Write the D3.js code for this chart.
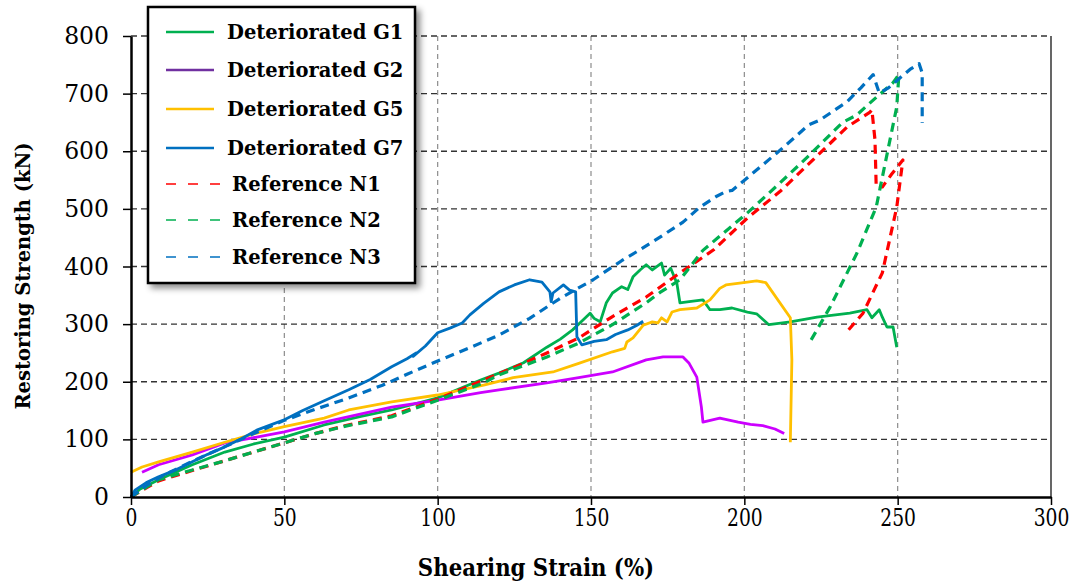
<!DOCTYPE html>
<html>
<head>
<meta charset="utf-8">
<script src="https://cdn.jsdelivr.net/npm/d3@7"></script>
<style>
  body { margin: 0; background: #fff; }
  text { font-family: 'DejaVu Serif', serif; fill: #000; }
  .title { font-weight: bold; }
</style>
</head>
<body>
<div id="chart"></div>
<script>
// values: [shearing strain %, restoring strength kN]
const g1 = [[0,0],[3,14],[9,30],[20,56],[30.6,78],[40,92],[50,104],[63,125],[75,140],[85,151],[100,172],[114,203],[120,215],[128,233],[135.6,260],[140,274],[144,290],[147.4,307],[149.7,319],[151,310],[153,304],[155,337],[157,354],[160,365],[162,360],[163.7,382],[166,394],[168,403],[170,394],[173,406],[174,385],[176,397],[178,371],[179,337],[182,339],[186.5,342],[188.8,325],[192,325],[196,328],[201,321],[204,318],[208,299],[215,304],[223.7,312],[234.4,319],[240,325],[241.6,311],[244,325],[245,312],[246.5,295],[248.5,295],[249.7,260]]
const g2 = [[3.6,43],[9,56],[20,73],[30.6,94],[41,104],[50,113],[63,130],[85,156],[100,168],[114,181],[120,186],[135.6,198],[146,207],[157,217],[168,238],[173.5,243],[180,243],[182,232],[184.5,208],[186,156],[186.5,130],[192,137],[198,130],[202,126],[206,124],[210,118],[213,110]]
const g5 = [[0,43],[3.6,52],[9,61],[20,78],[30.6,95],[41,111],[50,122],[63,137],[71,151],[85,165],[100,177],[115,194],[124.6,207],[137.6,217],[146,232],[157,252],[161,258],[161.7,269],[163.7,276],[167,298],[170,304],[171.8,302],[173,311],[174.8,304],[176.4,321],[179,325],[184.5,328],[188.8,342],[192,362],[194,368],[201,373],[204,375],[207,372],[215,311],[215.5,238],[215,95]]
const g7 = [[0,0],[1.3,12],[5,25],[9,35],[15,48],[20,61],[25,74],[30.6,87],[36,101],[41,116],[46,126],[50,134],[56,150],[63,167],[71,186],[78,204],[85,226],[90,240],[93,250],[92,244],[96,262],[100,285],[104,293],[108,302],[110.5,316],[115,336],[120,356],[125,368],[130,377],[134,373],[136.6,356],[137,339],[137.6,354],[141,368],[143,359],[145,356],[145.4,278],[147,264],[151,270],[155,273],[158,282],[162,290],[165,298],[167,305]]
const n1 = [[0,0],[5,16],[9,28],[20,46],[30,62],[40,78],[50,94],[60,110],[70,124],[85,141],[100,170],[115,203],[125,225],[135.6,250],[146,276],[157,313],[168,347],[179,389],[190,429],[201,484],[211.6,530],[221,578],[233.5,642],[241,668],[241.6,672],[242.6,620],[243,538],[245,538],[248,560],[251.7,585],[249.7,503],[245,389],[238.7,319],[233.5,287]]
const n2 = [[0,0],[5,17],[9,30],[20,47],[30,62],[40,78],[50,94],[60,110],[70,123],[85,139],[100,168],[115,198],[120,212],[135.6,243],[146,267],[157,299],[168,337],[172.5,355],[179,377],[186.5,428],[201,493],[210.6,540],[221,592],[232,650],[236.7,663],[241,684],[248.5,719],[250.4,733],[249.7,677],[243,503],[236.7,423],[228,330],[221.4,269]]
const n3 = [[0,0],[5,20],[10,36],[20,62],[30,86],[40,110],[50,133],[60,152],[70,170],[82,194],[90,213],[100,236],[110,258],[120,281],[130,310],[140,345],[150.7,377],[160,410],[165,426],[172.5,451],[180,477],[185.5,503],[191,522],[194,530],[196,532],[201,554],[210.6,597],[216,622],[221,646],[224.6,654],[233.5,686],[238,710],[242,733],[244,701],[247,710],[250.7,727],[254,742],[257,752],[258,736],[258,690],[258,649]]

const seriesNames = ['Deteriorated G1', 'Deteriorated G2', 'Deteriorated G5', 'Deteriorated G7', 'Reference N1', 'Reference N2', 'Reference N3']
const xTicks = [0, 50, 100, 150, 200, 250, 300]
const yTicks = [0, 100, 200, 300, 400, 500, 600, 700, 800]

const series = [
  { name: seriesNames[0], data: g1, color: '#00B050', legendColor: '#00B050', dashed: false },
  { name: seriesNames[1], data: g2, color: '#CC00FF', legendColor: '#7030A0', dashed: false },
  { name: seriesNames[2], data: g5, color: '#FFC000', legendColor: '#FFC000', dashed: false },
  { name: seriesNames[3], data: g7, color: '#0070C0', legendColor: '#0070C0', dashed: false },
  { name: seriesNames[4], data: n1, color: '#FF0000', legendColor: '#FF0000', dashed: true },
  { name: seriesNames[5], data: n2, color: '#00B050', legendColor: '#00B050', dashed: true },
  { name: seriesNames[6], data: n3, color: '#0070C0', legendColor: '#0070C0', dashed: true }
]

const dms = {
  width: 1079,
  height: 583,
  margin: { top: 36, right: 28, bottom: 86, left: 131 }
}
dms.contentWidth = dms.width - dms.margin.left - dms.margin.right
dms.contentHeight = dms.height - dms.margin.top - dms.margin.bottom

const svg = d3.select('#chart').append('svg')
  .attr('width', dms.width)
  .attr('height', dms.height)

const defs = svg.append('defs')
const shadow = defs.append('filter').attr('id', 'shadow')
  .attr('x', '-10%').attr('y', '-10%').attr('width', '130%').attr('height', '130%')
shadow.append('feDropShadow')
  .attr('dx', 4).attr('dy', 4).attr('stdDeviation', 3)
  .attr('flood-color', '#000').attr('flood-opacity', 0.45)

const content = svg.append('g')
  .attr('transform', `translate(${dms.margin.left},${dms.margin.top})`)

const xScale = d3.scaleLinear().domain([0, 300]).range([0, dms.contentWidth])
const yScale = d3.scaleLinear().domain([0, 800]).range([dms.contentHeight, 0])

// grid
content.append('g').selectAll('line')
  .data(xTicks.filter(d => d > 0 && d < 300))
  .join('line')
  .attr('x1', d => xScale(d)).attr('x2', d => xScale(d))
  .attr('y1', 0).attr('y2', dms.contentHeight)
  .attr('stroke', '#8c8c8c').attr('stroke-width', 1.2)
  .attr('stroke-dasharray', '5,4')

content.append('g').selectAll('line')
  .data(yTicks.filter(d => d > 0))
  .join('line')
  .attr('x1', 0).attr('x2', dms.contentWidth)
  .attr('y1', d => yScale(d)).attr('y2', d => yScale(d))
  .attr('stroke', '#333').attr('stroke-width', 1.3)
  .attr('stroke-dasharray', '6,4')

content.append('line')
  .attr('x1', xScale(300)).attr('x2', xScale(300))
  .attr('y1', 0).attr('y2', dms.contentHeight)
  .attr('stroke', '#000').attr('stroke-width', 1.2)

// curves
const line = d3.line()
  .x(d => xScale(d[0]))
  .y(d => yScale(d[1]))

content.append('g').selectAll('path')
  .data(series)
  .join('path')
  .attr('d', d => line(d.data))
  .attr('fill', 'none')
  .attr('stroke', d => d.color)
  .attr('stroke-width', d => d.dashed ? 3.2 : 2.8)
  .attr('stroke-linejoin', 'round')
  .attr('stroke-dasharray', d => d.dashed ? '9,6' : null)

// axes
const xAxis = content.append('g')
  .attr('transform', `translate(0,${dms.contentHeight})`)
  .call(d3.axisBottom(xScale).tickValues(xTicks).tickSize(8).tickSizeOuter(0).tickPadding(4))
xAxis.select('.domain').attr('stroke-width', 2.5)
xAxis.selectAll('.tick line').attr('stroke-width', 1.5)
xAxis.selectAll('.tick text')
  .attr('font-size', 24)
  .attr('transform', 'scale(0.78,1)')

const yAxis = content.append('g')
  .call(d3.axisLeft(yScale).tickValues(yTicks).tickSize(8).tickSizeOuter(0).tickPadding(14))
yAxis.select('.domain').attr('stroke-width', 2.5)
yAxis.selectAll('.tick line').attr('stroke-width', 1.5)
yAxis.selectAll('.tick text').attr('font-size', 23.5)

// axis titles
svg.append('text')
  .attr('class', 'title')
  .attr('text-anchor', 'middle')
  .attr('font-size', 25)
  .attr('transform', `translate(536,576) scale(0.85,1)`)
  .text('Shearing Strain (%)')

svg.append('text')
  .attr('class', 'title')
  .attr('text-anchor', 'middle')
  .attr('font-size', 19.5)
  .attr('transform', `translate(30,276) rotate(-90)`)
  .text('Restoring Strength (kN)')

// legend
const legend = svg.append('g')
legend.append('rect')
  .attr('x', 148).attr('y', 7)
  .attr('width', 267).attr('height', 276)
  .attr('fill', '#fff').attr('stroke', '#000').attr('stroke-width', 2.5)
  .attr('filter', 'url(#shadow)')

const legendRows = [32, 70, 109, 148, 184, 220, 257]
const items = legend.selectAll('g.item')
  .data(series)
  .join('g')
  .attr('class', 'item')
  .attr('transform', (d, i) => `translate(0,${legendRows[i]})`)

items.append('line')
  .attr('x1', 166).attr('x2', d => d.dashed ? 220 : 214)
  .attr('y1', 0).attr('y2', 0)
  .attr('stroke', d => d.legendColor)
  .attr('stroke-width', d => d.dashed ? 1.5 : 2.5)
  .attr('stroke-dasharray', d => d.dashed ? '10,12' : null)

items.append('text')
  .attr('class', 'title')
  .attr('x', d => d.dashed ? 232 : 227)
  .attr('y', 7)
  .attr('font-size', 19.5)
  .text(d => d.name)
</script>
</body>
</html>
